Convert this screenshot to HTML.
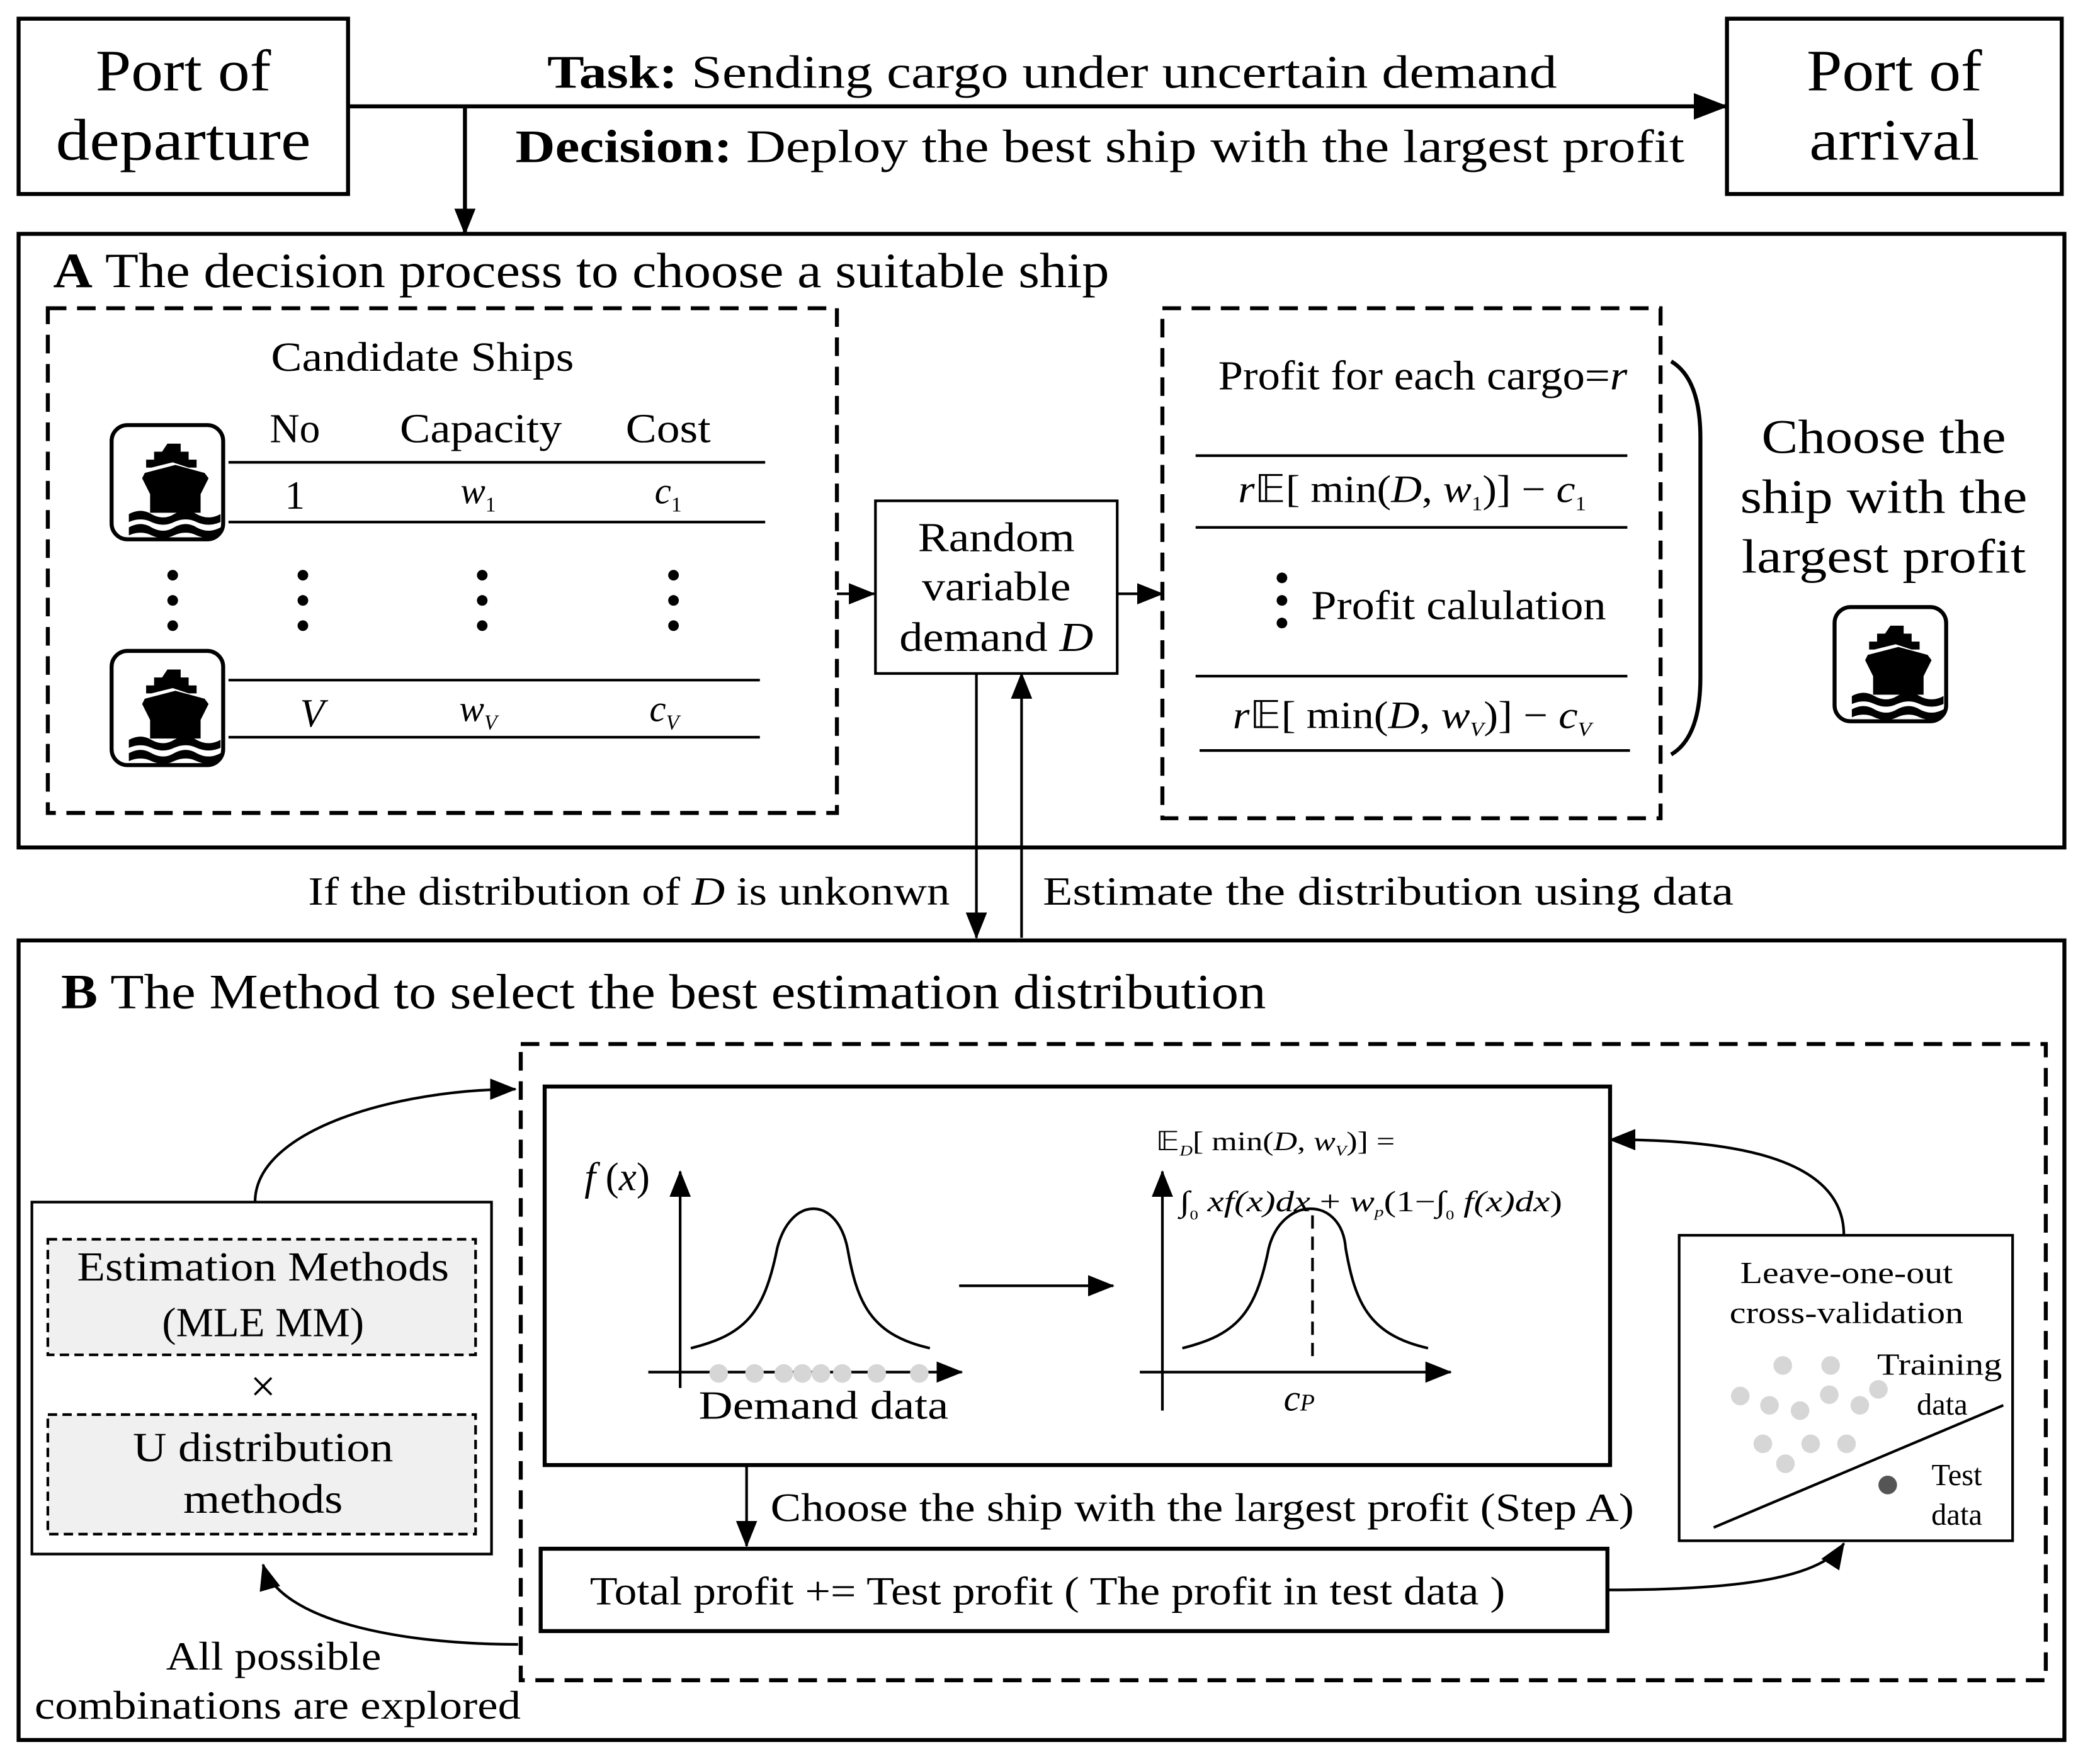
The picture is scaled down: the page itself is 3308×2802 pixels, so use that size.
<!DOCTYPE html>
<html><head><meta charset="utf-8"><style>
html,body{margin:0;padding:0;background:#fff}
svg{display:block}
text{font-family:"Liberation Serif",serif;fill:#000}
</style></head><body>
<svg width="3308" height="2802" viewBox="0 0 1568 1328" xmlns="http://www.w3.org/2000/svg">
<defs>
<marker id="ahb" markerWidth="26" markerHeight="20" refX="25" refY="10" orient="auto" markerUnits="userSpaceOnUse">
<path d="M0,0 L26,10 L0,20 z" fill="#000"/></marker>
<marker id="ahm" markerWidth="20" markerHeight="16" refX="19" refY="8" orient="auto" markerUnits="userSpaceOnUse">
<path d="M0,0 L20,8 L0,16 z" fill="#000"/></marker>
<g id="ship">
<rect x="2" y="2" width="84" height="86" rx="12" fill="#fff" stroke="#000" stroke-width="3"/>
<path d="M44,16 h10 v6 h6 v6 h6 v6 h-6 l-12,-4 l-16,4 h-4 v-6 h6 v-6 h6 z" fill="#000"/>
<path d="M27,38 L50,32 L72,38 L75,42 L69,54 L69,68 L31,68 L31,54 L25,42 z" fill="#000"/>
<path d="M15,69 q9,-5 17,0 q9,5 17,0 q9,-5 17,0 q9,5 18,0 v6 q-9,4 -18,0 q-8,-4 -17,0 q-8,4 -17,0 q-8,-4 -17,0 z" fill="#000"/>
<path d="M15,79 q9,-5 17,0 q9,5 17,0 q9,-5 17,0 q9,5 18,0 v6 q-9,4 -18,0 q-8,-4 -17,0 q-8,4 -17,0 q-8,-4 -17,0 z" fill="#000"/>
</g>
</defs>
<g fill="none" stroke="#000" stroke-width="3">
<rect x="14" y="14" width="248" height="132"/>
<rect x="1300" y="14" width="252" height="132"/>
<line x1="262" y1="80" x2="1300" y2="80" marker-end="url(#ahb)"/>
<line x1="350" y1="80" x2="350" y2="176" marker-end="url(#ahm)"/>
<rect x="14" y="176" width="1540" height="462"/>
<rect x="36" y="232" width="594" height="380" stroke-dasharray="14,8"/>
<rect x="875" y="232" width="375" height="384" stroke-dasharray="14,8"/>
<rect x="659" y="377" width="182" height="130" stroke-width="2"/>
<line x1="630" y1="447" x2="658" y2="447" stroke-width="2" marker-end="url(#ahm)"/>
<line x1="841" y1="447" x2="875" y2="447" stroke-width="2" marker-end="url(#ahm)"/>
<line x1="735" y1="507" x2="735" y2="706" stroke-width="2" marker-end="url(#ahm)"/>
<line x1="769" y1="706" x2="769" y2="507" stroke-width="2" marker-end="url(#ahm)"/>
<rect x="14" y="708" width="1540" height="602"/>
<rect x="392" y="786" width="1148" height="479" stroke-dasharray="14,8"/>
<rect x="410" y="818" width="802" height="285"/>
<rect x="407" y="1166" width="803" height="62"/>
<rect x="24" y="905" width="346" height="265" stroke-width="2"/>
<rect x="1264" y="930" width="251" height="230" stroke-width="2"/>
</g>
<g stroke="#000" stroke-width="2">
<line x1="172" y1="348" x2="576" y2="348"/><line x1="172" y1="393" x2="576" y2="393"/>
<line x1="172" y1="512" x2="572" y2="512"/><line x1="172" y1="555" x2="572" y2="555"/>
<line x1="900" y1="343" x2="1225" y2="343"/><line x1="900" y1="397" x2="1225" y2="397"/>
<line x1="900" y1="509" x2="1225" y2="509"/><line x1="903" y1="565" x2="1227" y2="565"/>
</g>
<rect x="36" y="933" width="322" height="87" fill="#f0f0f0" stroke="#000" stroke-width="2" stroke-dasharray="7,4"/>
<rect x="36" y="1065" width="322" height="90" fill="#f0f0f0" stroke="#000" stroke-width="2" stroke-dasharray="7,4"/>
<path d="M1258,272 Q1280,285 1280,330 L1280,510 Q1280,555 1258,568" fill="none" stroke="#000" stroke-width="3"/>
<use href="#ship" x="82" y="318"/>
<use href="#ship" x="82" y="488"/>
<use href="#ship" x="1379" y="455"/>
<g fill="#000">
<circle cx="130" cy="433" r="4"/><circle cx="130" cy="452" r="4"/><circle cx="130" cy="471" r="4"/>
<circle cx="228" cy="433" r="4"/><circle cx="228" cy="452" r="4"/><circle cx="228" cy="471" r="4"/>
<circle cx="363" cy="433" r="4"/><circle cx="363" cy="452" r="4"/><circle cx="363" cy="471" r="4"/>
<circle cx="507" cy="433" r="4"/><circle cx="507" cy="452" r="4"/><circle cx="507" cy="471" r="4"/>
<circle cx="965" cy="435" r="4"/><circle cx="965" cy="452" r="4"/><circle cx="965" cy="469" r="4"/>
</g>
<text x="138" y="68" font-size="44" text-anchor="middle" textLength="132" lengthAdjust="spacingAndGlyphs">Port of</text>
<text x="138" y="120" font-size="44" text-anchor="middle" textLength="192" lengthAdjust="spacingAndGlyphs">departure</text>
<text x="1426" y="68" font-size="44" text-anchor="middle" textLength="132" lengthAdjust="spacingAndGlyphs">Port of</text>
<text x="1426" y="120" font-size="44" text-anchor="middle" textLength="128" lengthAdjust="spacingAndGlyphs">arrival</text>
<text x="412" y="66" font-size="35" textLength="760" lengthAdjust="spacingAndGlyphs"><tspan font-weight="bold">Task:</tspan> Sending cargo under uncertain demand</text>
<text x="388" y="122" font-size="35" textLength="880" lengthAdjust="spacingAndGlyphs"><tspan font-weight="bold">Decision:</tspan> Deploy the best ship with the largest profit</text>
<text x="40" y="216" font-size="37" textLength="795" lengthAdjust="spacingAndGlyphs"><tspan font-weight="bold">A</tspan> The decision process to choose a suitable ship</text>
<text x="204" y="279" font-size="31" textLength="228" lengthAdjust="spacingAndGlyphs">Candidate Ships</text>
<text x="222" y="333" font-size="31" text-anchor="middle">No</text>
<text x="362" y="333" font-size="31" text-anchor="middle" textLength="122" lengthAdjust="spacingAndGlyphs">Capacity</text>
<text x="503" y="333" font-size="31" text-anchor="middle" textLength="64" lengthAdjust="spacingAndGlyphs">Cost</text>
<text x="222" y="383" font-size="30" text-anchor="middle">1</text>
<text x="360" y="379" font-size="28" text-anchor="middle" font-style="italic">w<tspan font-size="16" dy="6" font-style="normal">1</tspan></text>
<text x="503" y="379" font-size="28" text-anchor="middle" font-style="italic">c<tspan font-size="16" dy="6" font-style="normal">1</tspan></text>
<text x="235" y="547" font-size="30" text-anchor="middle" font-style="italic">V</text>
<text x="360" y="543" font-size="28" text-anchor="middle" font-style="italic">w<tspan font-size="16" dy="6">V</tspan></text>
<text x="500" y="543" font-size="28" text-anchor="middle" font-style="italic">c<tspan font-size="16" dy="6">V</tspan></text>
<text x="750" y="415" font-size="31" text-anchor="middle" textLength="118" lengthAdjust="spacingAndGlyphs">Random</text>
<text x="750" y="452" font-size="31" text-anchor="middle" textLength="112" lengthAdjust="spacingAndGlyphs">variable</text>
<text x="750" y="490" font-size="31" text-anchor="middle" textLength="146" lengthAdjust="spacingAndGlyphs">demand <tspan font-style="italic">D</tspan></text>
<text x="917" y="293" font-size="31" textLength="308" lengthAdjust="spacingAndGlyphs">Profit for each cargo=<tspan font-style="italic">r</tspan></text>
<text x="932" y="378" font-size="29" textLength="262" lengthAdjust="spacingAndGlyphs"><tspan font-style="italic">r</tspan>𝔼[ min(<tspan font-style="italic">D</tspan>, <tspan font-style="italic">w</tspan><tspan font-size="15" dy="6">1</tspan><tspan dy="-6">)</tspan>] − <tspan font-style="italic">c</tspan><tspan font-size="15" dy="6">1</tspan></text>
<text x="928" y="548" font-size="29" textLength="270" lengthAdjust="spacingAndGlyphs"><tspan font-style="italic">r</tspan>𝔼[ min(<tspan font-style="italic">D</tspan>, <tspan font-style="italic">w</tspan><tspan font-size="15" dy="6" font-style="italic">V</tspan><tspan dy="-6">)</tspan>] − <tspan font-style="italic">c</tspan><tspan font-size="15" dy="6" font-style="italic">V</tspan></text>
<text x="987" y="466" font-size="31" textLength="222" lengthAdjust="spacingAndGlyphs">Profit calulation</text>
<text x="1418" y="341" font-size="36" text-anchor="middle" textLength="184" lengthAdjust="spacingAndGlyphs">Choose the</text>
<text x="1418" y="386" font-size="36" text-anchor="middle" textLength="216" lengthAdjust="spacingAndGlyphs">ship with the</text>
<text x="1418" y="431" font-size="36" text-anchor="middle" textLength="214" lengthAdjust="spacingAndGlyphs">largest profit</text>
<text x="232" y="681" font-size="30" textLength="483" lengthAdjust="spacingAndGlyphs">If the distribution of <tspan font-style="italic">D</tspan> is unkonwn</text>
<text x="785" y="681" font-size="30" textLength="520" lengthAdjust="spacingAndGlyphs">Estimate the distribution using data</text>
<text x="46" y="759" font-size="37" textLength="907" lengthAdjust="spacingAndGlyphs"><tspan font-weight="bold">B</tspan> The Method to select the best estimation distribution</text>
<text x="198" y="964" font-size="31" text-anchor="middle" textLength="280" lengthAdjust="spacingAndGlyphs">Estimation Methods</text>
<text x="198" y="1006" font-size="31" text-anchor="middle" textLength="152" lengthAdjust="spacingAndGlyphs">(MLE MM)</text>
<text x="198" y="1055" font-size="34" text-anchor="middle">×</text>
<text x="198" y="1100" font-size="31" text-anchor="middle" textLength="196" lengthAdjust="spacingAndGlyphs">U distribution</text>
<text x="198" y="1139" font-size="31" text-anchor="middle" textLength="120" lengthAdjust="spacingAndGlyphs">methods</text>
<text x="206" y="1257" font-size="30" text-anchor="middle" textLength="162" lengthAdjust="spacingAndGlyphs">All possible</text>
<text x="26" y="1294" font-size="30" textLength="366" lengthAdjust="spacingAndGlyphs">combinations are explored</text>
<text x="580" y="1145" font-size="30" textLength="650" lengthAdjust="spacingAndGlyphs">Choose the ship with the largest profit (Step A)</text>
<text x="444" y="1208" font-size="30" textLength="689" lengthAdjust="spacingAndGlyphs">Total profit += Test profit ( The profit in test data )</text>
<text x="1390" y="966" font-size="23" text-anchor="middle" textLength="160" lengthAdjust="spacingAndGlyphs">Leave-one-out</text>
<text x="1390" y="996" font-size="23" text-anchor="middle" textLength="176" lengthAdjust="spacingAndGlyphs">cross-validation</text>
<text x="1460" y="1035" font-size="23" text-anchor="middle" textLength="94" lengthAdjust="spacingAndGlyphs">Training</text>
<text x="1462" y="1065" font-size="23" text-anchor="middle">data</text>
<text x="1473" y="1118" font-size="23" text-anchor="middle">Test</text>
<text x="1473" y="1148" font-size="23" text-anchor="middle">data</text>
<g fill="#d6d6d6">
<circle cx="1342" cy="1028" r="7"/><circle cx="1378" cy="1028" r="7"/><circle cx="1310" cy="1051" r="7"/><circle cx="1332" cy="1058" r="7"/><circle cx="1355" cy="1062" r="7"/><circle cx="1377" cy="1050" r="7"/><circle cx="1400" cy="1058" r="7"/><circle cx="1414" cy="1046" r="7"/><circle cx="1327" cy="1087" r="7"/><circle cx="1363" cy="1087" r="7"/><circle cx="1390" cy="1087" r="7"/><circle cx="1344" cy="1102" r="7"/>
</g>
<circle cx="1421" cy="1118" r="7" fill="#555"/>
<line x1="1290" y1="1150" x2="1508" y2="1058" stroke="#000" stroke-width="2"/>
<g fill="none" stroke="#000" stroke-width="2">
<path d="M192,905 C192,850 300,820 388,820" marker-end="url(#ahm)"/>
<path d="M390,1238 C300,1238 210,1220 198,1178" marker-end="url(#ahm)"/>
<path d="M1210,1197 C1300,1197 1370,1190 1388,1162" marker-end="url(#ahm)"/>
<path d="M1388,930 C1388,870 1300,858 1212,858" marker-end="url(#ahm)"/>
<line x1="562" y1="1103" x2="562" y2="1164" marker-end="url(#ahm)"/>
<line x1="512" y1="1045" x2="512" y2="882" marker-end="url(#ahm)"/>
<line x1="488" y1="1033" x2="724" y2="1033" marker-end="url(#ahm)"/>
<line x1="722" y1="968" x2="838" y2="968" marker-end="url(#ahm)"/>
<line x1="875" y1="1062" x2="875" y2="882" marker-end="url(#ahm)"/>
<line x1="858" y1="1033" x2="1092" y2="1033" marker-end="url(#ahm)"/>
<path d="M520,1015 C560,1005 575,990 585,940 C595,900 630,900 638,940 C645,980 655,1005 700,1015"/>
<path d="M890,1015 C930,1005 945,990 955,940 C965,900 1010,900 1013,940 C1020,980 1030,1005 1075,1015"/>
<line x1="988" y1="915" x2="988" y2="1022" stroke-dasharray="10,6"/>
</g>
<g fill="#d6d6d6">
<circle cx="541" cy="1034" r="7"/><circle cx="568" cy="1034" r="7"/><circle cx="590" cy="1034" r="7"/><circle cx="604" cy="1034" r="7"/><circle cx="618" cy="1034" r="7"/><circle cx="634" cy="1034" r="7"/><circle cx="660" cy="1034" r="7"/><circle cx="692" cy="1034" r="7"/>
</g>
<text x="440" y="896" font-size="30" font-style="italic">f <tspan font-style="normal">(</tspan>x<tspan font-style="normal">)</tspan></text>
<text x="526" y="1068" font-size="30" textLength="188" lengthAdjust="spacingAndGlyphs">Demand data</text>
<text x="978" y="1062" font-size="28" font-style="italic" text-anchor="middle">c<tspan font-size="18">P</tspan></text>
<text x="870" y="866" font-size="20" textLength="180" lengthAdjust="spacingAndGlyphs">𝔼<tspan font-size="11" dy="4" font-style="italic">D</tspan><tspan dy="-4">[ min(</tspan><tspan font-style="italic">D</tspan>, <tspan font-style="italic">w</tspan><tspan font-size="11" dy="4" font-style="italic">V</tspan><tspan dy="-4">)] =</tspan></text>
<text x="888" y="912" font-size="22" textLength="288" lengthAdjust="spacingAndGlyphs">∫<tspan font-size="10" dy="6">0</tspan><tspan dy="-6" font-style="italic"> xf(x)dx</tspan> + <tspan font-style="italic">w</tspan><tspan font-size="11" dy="4" font-style="italic">p</tspan><tspan dy="-4">(1−∫</tspan><tspan font-size="10" dy="6">0</tspan><tspan dy="-6" font-style="italic"> f(x)dx</tspan>)</text>
</svg>
</body></html>
